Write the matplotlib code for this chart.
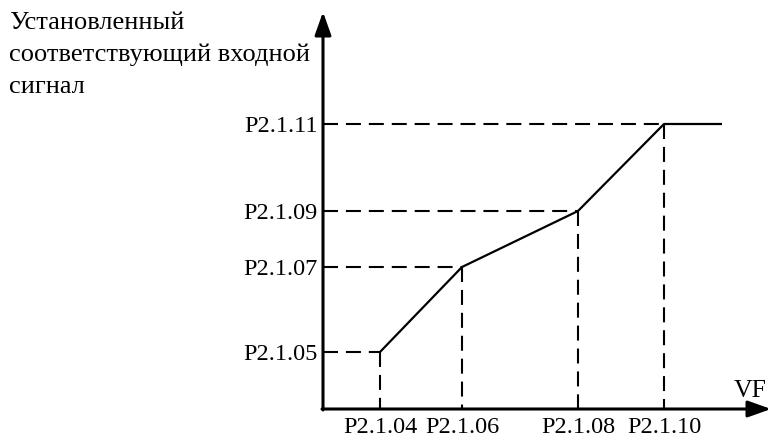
import matplotlib.pyplot as plt

plt.rcParams['font.family'] = ['Liberation Serif', 'DejaVu Serif']

# Breakpoints of the characteristic (picture units)
x_pts = [380, 462, 578, 664]
y_pts = [353, 268, 212, 125]
x_labels = ["P2.1.04", "P2.1.06", "P2.1.08", "P2.1.10"]
y_labels = ["P2.1.05", "P2.1.07", "P2.1.09", "P2.1.11"]
x_end = 722
title_lines = ["Установленный", "соответствующий входной", "сигнал"]

ox, oy = 323, 410  # origin

fig = plt.figure(figsize=(7.71, 4.39), dpi=100)
ax = fig.add_axes([0, 0, 1, 1])
ax.set_xlim(0, 771)
ax.set_ylim(439, 0)
ax.axis('off')

# axes with arrows
arrow = dict(arrowstyle="-|>,head_length=1.4,head_width=0.5",
             color='black', lw=2.2, shrinkA=0, shrinkB=0)
ax.annotate("", xy=(771, oy), xytext=(ox - 1, oy), arrowprops=arrow)
ax.annotate("", xy=(ox, 13), xytext=(ox, oy + 1), arrowprops=arrow)

# curve
ax.plot(x_pts + [x_end], y_pts + [y_pts[-1]], color='black', lw=1.6,
        solid_capstyle='butt')

# guide lines
dash = (0, (7.2, 3.8))
for x, y in zip(x_pts, y_pts):
    ax.plot([ox, x], [y, y], color='black', lw=1.5, linestyle=dash)
    ax.plot([x, x], [y, oy], color='black', lw=1.5, linestyle=dash)

for x, lab in zip(x_pts, x_labels):
    ax.text(x, 433, lab, ha='center', va='baseline', fontsize=17.5)
for y, lab in zip(y_pts, y_labels):
    ax.text(318, y + 7, lab, ha='right', va='baseline', fontsize=17.5)

ax.text(767, 397, "VF", ha='right', va='baseline', fontsize=18.5)
for i, line in enumerate(title_lines):
    ax.text(9, 29 + 32 * i, line, ha='left', va='baseline', fontsize=19)

fig.savefig("out.png", dpi=100)
